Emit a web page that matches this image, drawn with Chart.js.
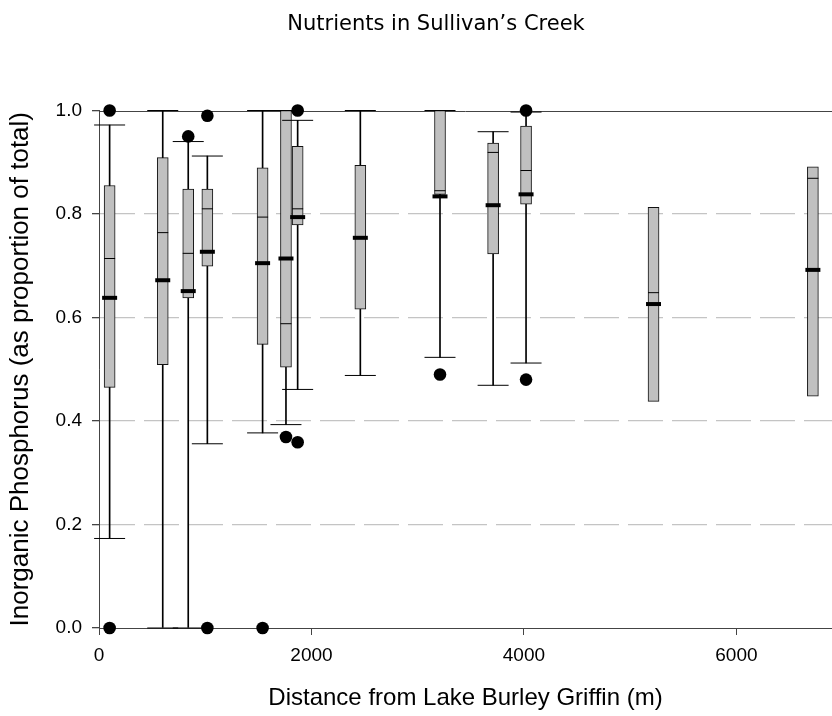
<!DOCTYPE html>
<html>
<head>
<meta charset="utf-8">
<script src="https://cdn.jsdelivr.net/npm/chart.js@4.4.1/dist/chart.umd.min.js"></script>
<style>
  html, body { margin: 0; padding: 0; background: #fff; overflow: hidden; }
  #wrap { width: 832px; height: 716px; position: relative; }
  canvas { display: block; }
</style>
</head>
<body>
<div id="wrap"><canvas id="boxChart"></canvas></div>
<script>
// sampling sites, distance from the lake (m)
const sites = [100, 600, 840, 1020, 1540, 1760, 1870, 2460, 3210, 3710, 4020, 5220, 6720];
// box statistics per site
const q1 = [0.465, 0.509, 0.638, 0.699, 0.548, 0.504, 0.779, 0.616, 0.838, 0.723, 0.819, 0.438, 0.448];
const q3 = [0.855, 0.909, 0.848, 0.848, 0.889, 1.0, 0.931, 0.894, 1.0, 0.937, 0.970, 0.813, 0.891];
const medians = [0.714, 0.764, 0.724, 0.810, 0.794, 0.588, 0.810, 0.754, 0.845, 0.919, 0.884, 0.648, 0.869];
const means = [0.638, 0.672, 0.651, 0.727, 0.705, 0.714, 0.794, 0.754, 0.834, 0.817, 0.838, 0.626, 0.692];
const whiskerLo = [0.173, 0, 0, 0.356, 0.377, 0.393, 0.461, 0.488, 0.523, 0.469, 0.512, null, null];
const whiskerHi = [0.972, 1.0, 0.940, 0.912, 1.0, 1.0, 0.981, 1.0, 1.0, 0.959, 0.997, null, null];
// outliers: which site, and value
const outlierSite = [0, 0, 2, 3, 3, 4, 5, 6, 6, 8, 10, 10];
const outlierValue = [1.0, 0, 0.95, 0.99, 0, 0, 0.369, 1.0, 0.359, 0.49, 1.0, 0.48];

const xTicks = [0, 2000, 4000, 6000];
const yTicks = [0, 0.2, 0.4, 0.6, 0.8, 1.0];
const titleText = 'Nutrients in Sullivan\u2019s Creek';

const boxData = sites.map((x, i) => ({ x: x, y: [q1[i], q3[i]] }));
const whiskerData = [];
const capData = [];
sites.forEach((x, i) => {
    if (whiskerLo[i] === null) return;
    whiskerData.push({ x: x, y: [whiskerLo[i], whiskerHi[i]] });
    capData.push({ x: x, y: whiskerLo[i] }, { x: x, y: whiskerHi[i] });
});
const medianData = sites.map((x, i) => ({ x: x, y: medians[i] }));
const meanData = sites.map((x, i) => ({ x: x, y: means[i] }));
const outlierData = outlierSite.map((s, i) => ({ x: sites[s], y: outlierValue[i] }));

// solid line along 1.0, like the frame top in the original
const frameTop = {
    id: 'frameTop',
    beforeDatasetsDraw(chart) {
        const { ctx, chartArea, scales } = chart;
        const y = Math.round(scales.y.getPixelForValue(1)) + 0.5;
        ctx.save();
        ctx.strokeStyle = '#444';
        ctx.lineWidth = 1;
        ctx.beginPath();
        ctx.moveTo(chartArea.left, y);
        ctx.lineTo(chartArea.right, y);
        ctx.stroke();
        ctx.restore();
    }
};

// title sits a bit left of the plot centre in the original figure
const figTitle = {
    id: 'figTitle',
    afterDraw(chart) {
        const c = chart.ctx;
        c.save();
        c.font = '21px "DejaVu Sans"';
        c.fillStyle = '#000';
        c.textAlign = 'center';
        c.textBaseline = 'alphabetic';
        c.fillText(titleText, 436, 30);
        c.restore();
    }
};

const ctx = document.getElementById('boxChart').getContext('2d');
new Chart(ctx, {
    type: 'bar',
    data: {
        datasets: [
            {
                type: 'scatter', data: outlierData, order: 1, clip: false,
                pointStyle: 'circle', pointRadius: 6.3,
                pointBackgroundColor: '#000', pointBorderColor: '#000', pointBorderWidth: 0
            },
            {
                type: 'scatter', data: meanData, order: 2, clip: false,
                pointStyle: 'line', pointRadius: 7.5,
                pointBorderColor: '#000', pointBorderWidth: 4
            },
            {
                type: 'scatter', data: medianData, order: 3, clip: false,
                pointStyle: 'line', pointRadius: 5.5,
                pointBorderColor: '#000', pointBorderWidth: 1
            },
            {
                type: 'scatter', data: capData, order: 4, clip: false,
                pointStyle: 'line', pointRadius: 15.5,
                pointBorderColor: '#000', pointBorderWidth: 1
            },
            {
                data: boxData, order: 5, grouped: false, clip: false,
                barThickness: 11,
                backgroundColor: '#c0c0c0', borderColor: '#111',
                borderWidth: 1, borderSkipped: false
            },
            {
                data: whiskerData, order: 6, grouped: false, clip: false,
                barThickness: 1,
                backgroundColor: '#000', borderWidth: 0
            }
        ]
    },
    options: {
        responsive: true,
        maintainAspectRatio: false,
        animation: false,
        events: [],
        layout: { autoPadding: false, padding: { top: 110.5, right: 0, bottom: 0, left: 0 } },
        plugins: {
            legend: { display: false },
            tooltip: { enabled: false },
            title: { display: false }
        },
        scales: {
            x: {
                type: 'linear',
                min: 0,
                max: 6900,
                offset: false,
                afterFit: (s) => { s.height = 88; s.paddingRight = 0; s.paddingLeft = 0; },
                afterBuildTicks: (s) => { s.ticks = xTicks.map(v => ({ value: v })); },
                grid: {
                    offset: false,
                    drawOnChartArea: false,
                    drawTicks: true,
                    tickLength: 7,
                    tickColor: '#444',
                    tickBorderDash: []
                },
                border: { color: '#444', width: 1 },
                ticks: {
                    color: '#000',
                    padding: 9,
                    maxRotation: 0,
                    font: { family: 'Liberation Sans', size: 19 },
                    callback: (v) => String(v)
                },
                title: {
                    display: true,
                    text: 'Distance from Lake Burley Griffin (m)',
                    color: '#000',
                    font: { family: 'Liberation Sans', size: 24 },
                    padding: { top: 0, bottom: 3 }
                }
            },
            y: {
                type: 'linear',
                min: 0,
                max: 1,
                afterFit: (s) => { s.width = 99; },
                afterBuildTicks: (s) => { s.ticks = yTicks.map(v => ({ value: v })); },
                grid: {
                    color: (c) => (c.tick && c.tick.value > 0.01 && c.tick.value < 0.99) ? '#c4c4c4' : 'rgba(0,0,0,0)',
                    lineWidth: 1.3,
                    drawTicks: true,
                    tickLength: 7,
                    tickColor: '#444',
                    tickBorderDash: []
                },
                border: { color: '#444', width: 1, dash: [35, 9] },
                ticks: {
                    color: '#000',
                    padding: 10,
                    font: { family: 'Liberation Sans', size: 19 },
                    callback: (v) => Number(v).toFixed(1)
                },
                title: {
                    display: true,
                    text: 'Inorganic Phosphorus (as proportion of total)',
                    color: '#000',
                    font: { family: 'Liberation Sans', size: 26 },
                    padding: { top: 5, bottom: 0 }
                }
            }
        }
    },
    plugins: [frameTop, figTitle]
});
</script>
</body>
</html>
